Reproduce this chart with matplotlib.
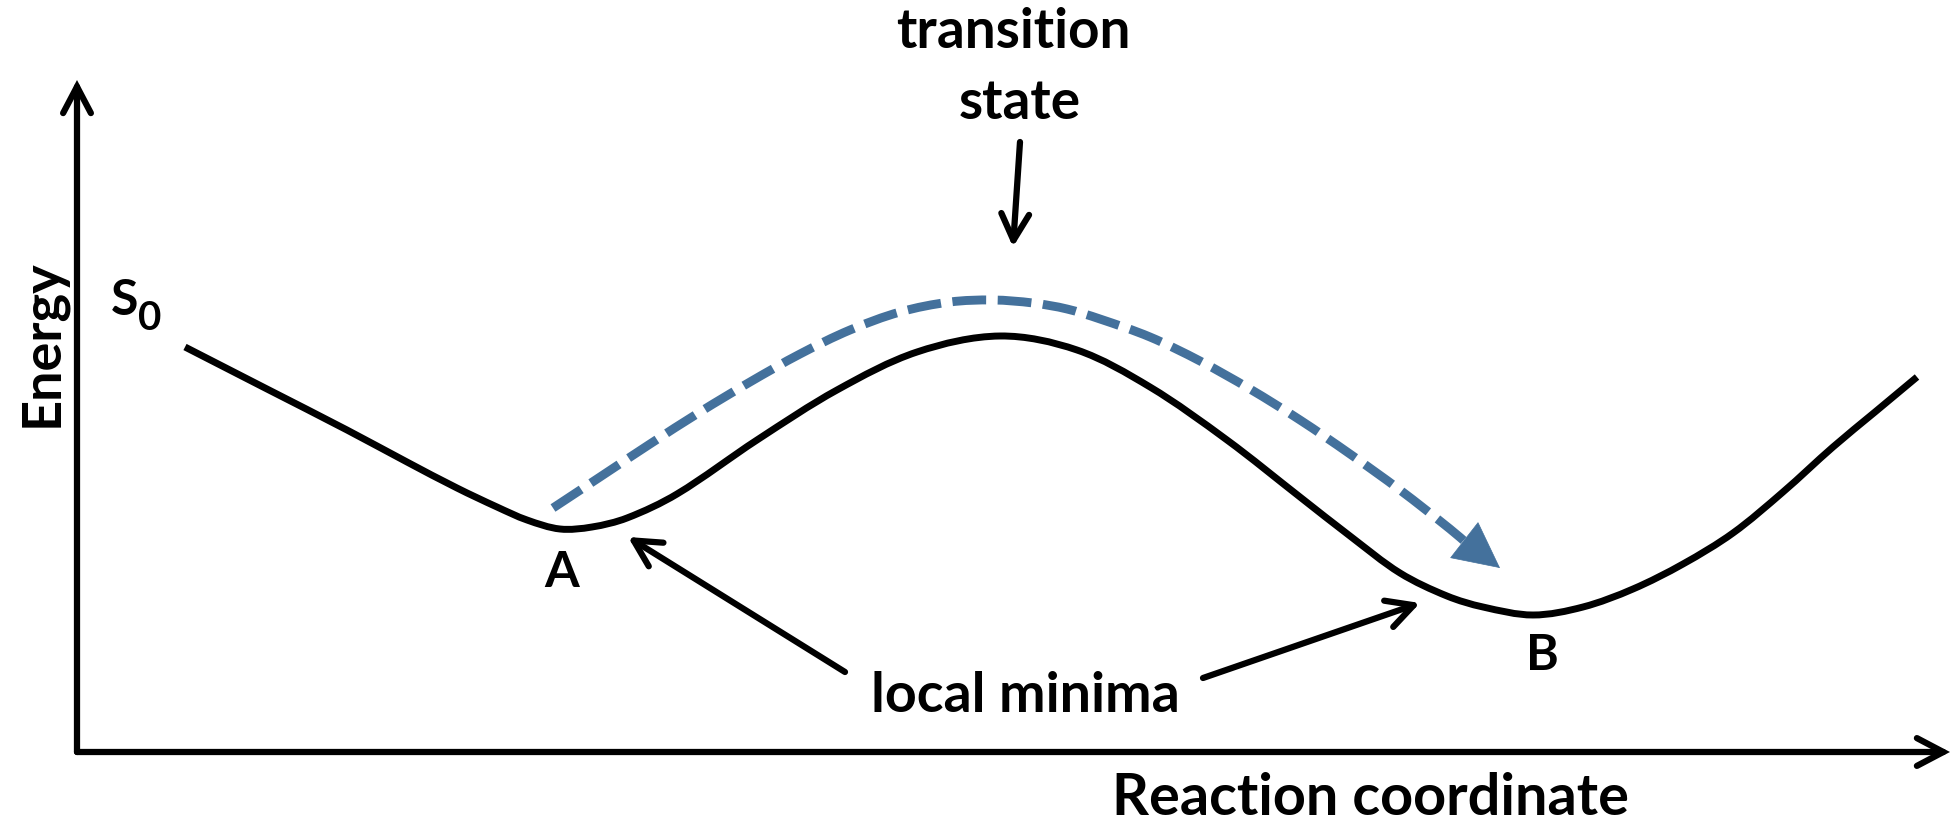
import numpy as np
import matplotlib
matplotlib.use("Agg")
import matplotlib.pyplot as plt
from matplotlib.path import Path
from matplotlib.patches import PathPatch

plt.rcParams['font.family'] = ['Lato', 'DejaVu Sans']
plt.rcParams['font.weight'] = 'bold'

# potential energy surface (reaction coordinate, energy)
rc_curve = [108, 190, 270, 330, 380, 420, 450, 483, 515, 550, 600, 680, 760,
            840, 923, 1000, 1073, 1150, 1223, 1273, 1323, 1370, 1406, 1456, 1506,
            1556, 1606, 1656, 1706, 1756, 1798, 1840]
energy_curve = [405, 363, 322, 290, 264, 245, 232, 223, 225, 234, 258, 312, 362,
                400, 416, 402, 365, 312, 255, 216, 179, 156, 145, 137, 145,
                163, 188, 219, 260, 305, 340, 375]

# path A -> B over the transition state (dashed blue)
rc_path = [476, 523, 573, 623, 673, 723, 773, 823, 873, 916, 956, 990, 1023,
           1073, 1123, 1173, 1223, 1273, 1323, 1373, 1393]
energy_path = [244, 275, 308, 340, 370, 398, 422, 440, 450, 452, 449, 443, 433,
               415, 391, 363, 332, 298, 262, 223, 206]
path_tip = (1423, 184)

blue = '#44719c'


def smooth_path(xs, ys):
    # cardinal spline through the read points (chord-length knots), as Bezier segments
    p = np.column_stack([xs, ys]).astype(float)
    t = np.concatenate([[0], np.cumsum(np.hypot(*np.diff(p, axis=0).T))])
    m = np.zeros_like(p)
    m[1:-1] = (p[2:] - p[:-2]) / (t[2:] - t[:-2])[:, None]
    m[0] = (p[1] - p[0]) / (t[1] - t[0])
    m[-1] = (p[-1] - p[-2]) / (t[-1] - t[-2])
    verts = [p[0]]
    codes = [Path.MOVETO]
    for i in range(len(p) - 1):
        dt = t[i + 1] - t[i]
        verts += [p[i] + m[i] * dt / 3, p[i + 1] - m[i + 1] * dt / 3, p[i + 1]]
        codes += [Path.CURVE4] * 3
    return Path(verts, codes)


fig = plt.figure(figsize=(19.51, 8.25), dpi=100)
ax = fig.add_axes([0, 0, 1, 1])
ax.set_xlim(-77, 1874)
ax.set_ylim(-73, 752)
ax.axis('off')

ax.add_patch(PathPatch(smooth_path(rc_curve, energy_curve), fill=False,
                       edgecolor='black', lw=5.0, capstyle='butt'))
ax.add_patch(PathPatch(smooth_path(rc_path, energy_path), fill=False,
                       edgecolor=blue, lw=6.4, linestyle=(0, (3.8, 1.3)),
                       capstyle='butt'))
ax.annotate('', xy=path_tip, xytext=(rc_path[-2], energy_path[-2]),
            arrowprops=dict(arrowstyle='-|>,head_length=1.6,head_width=0.8',
                            color=blue, lw=0.5, mutation_scale=20,
                            shrinkA=0, shrinkB=0))

# axes as arrows
axis_style = '->,head_length=0.95,head_width=0.5'
for end in [(0, 672), (1873, 0)]:
    ax.annotate('', xy=end, xytext=(0, 0),
                arrowprops=dict(arrowstyle=axis_style, color='black', lw=4.5,
                                mutation_scale=20, shrinkA=0, shrinkB=0,
                                capstyle='round', joinstyle='miter'))

# pointer arrows
for tail, tip in [((943, 610), (936, 505)),
                  ((768, 80), (551, 215)),
                  ((1126, 74), (1343, 149))]:
    ax.annotate('', xy=tip, xytext=tail,
                arrowprops=dict(arrowstyle=axis_style, color='black', lw=4.5,
                                mutation_scale=20, shrinkA=0, shrinkB=0,
                                capstyle='round'))

ax.text(936, 704, 'transition', fontsize=39.5, ha='center', va='baseline')
ax.text(943, 633, 'state', fontsize=39.5, ha='center', va='baseline')
ax.text(948, 40, 'local minima', fontsize=40, ha='center', va='baseline')
ax.text(1294, -63, 'Reaction coordinate', fontsize=41.5, ha='center', va='baseline')
ax.text(-35, 409, 'Energy', fontsize=39, rotation=90, ha='center', va='center')
ax.text(34, 437, 'S', fontsize=36, ha='left', va='baseline')
ax.text(61, 422, '0', fontsize=29, ha='left', va='baseline')
ax.text(485, 165, 'A', fontsize=36, ha='center', va='baseline')
ax.text(1465, 82, 'B', fontsize=36, ha='center', va='baseline')

fig.savefig('out.png', dpi=100)
